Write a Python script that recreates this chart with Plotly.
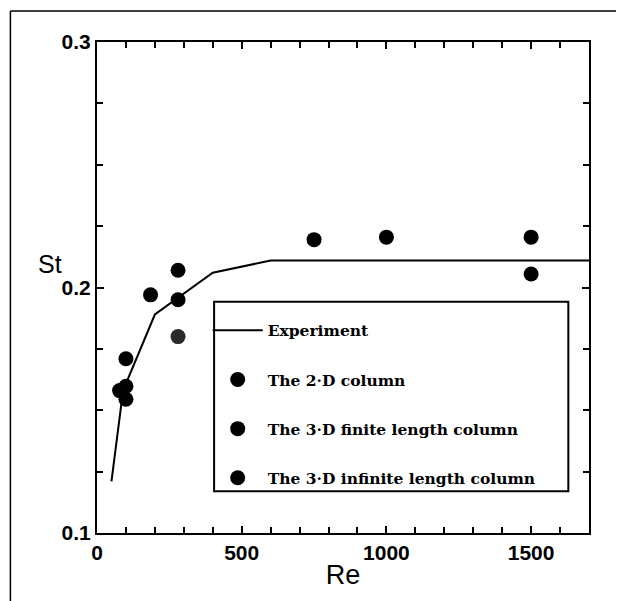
import plotly.graph_objects as go

# Experiment curve
exp_re = [50, 90, 200, 400, 600, 1700]
exp_st = [0.121, 0.158, 0.189, 0.206, 0.211, 0.211]

# The 2-D column
re_2d = [100, 185, 280, 750, 1000, 1500]
st_2d = [0.171, 0.197, 0.207, 0.2195, 0.2205, 0.2205]

# The 3-D finite length column
re_3df = [100, 280, 1500]
st_3df = [0.1545, 0.180, 0.2055]

# The 3-D infinite length column
re_3di = [78, 100, 280]
st_3di = [0.158, 0.1598, 0.195]

x_ticks = [0, 500, 1000, 1500]
y_ticks = [0.1, 0.2, 0.3]

SANS = "Liberation Sans, Arial"

fig = go.Figure()
fig.add_trace(go.Scatter(x=exp_re, y=exp_st, mode="lines", name="Experiment",
                         line=dict(color="black", width=2), legendgroup="a"))
fig.add_trace(go.Scatter(x=re_2d, y=st_2d, mode="markers", name="The 2·D column",
                         marker=dict(color="black", size=15), legendgroup="b"))
fig.add_trace(go.Scatter(x=re_3df, y=st_3df, mode="markers", name="The 3·D finite length column",
                         marker=dict(color=["black", "#2a2a2a", "black"], size=15), legendgroup="c"))
fig.add_trace(go.Scatter(x=re_3di, y=st_3di, mode="markers", name="The 3·D infinite length column",
                         marker=dict(color="black", size=15), legendgroup="d"))

axis_common = dict(showline=True, linecolor="black", linewidth=2, mirror="allticks",
                   ticks="inside", tickcolor="black", tickwidth=2, ticklen=7,
                   showgrid=False, zeroline=False,
                   tickfont=dict(family=SANS, size=21, color="black", weight="bold"))

fig.update_xaxes(range=[0, 1700], tickvals=x_ticks,
                 minor=dict(dtick=100, ticks="inside", ticklen=6, tickwidth=2, tickcolor="black"),
                 title=dict(text="Re", font=dict(family=SANS, size=27, color="black"), standoff=2),
                 **axis_common)
fig.update_yaxes(range=[0.1, 0.3], tickvals=y_ticks, tickformat=".1f",
                 minor=dict(dtick=0.025, ticks="inside", ticklen=6, tickwidth=2, tickcolor="black"),
                 **axis_common)

# page body has an 8px margin, so the figure is sized/offset to compensate
fig.update_layout(
    width=616, height=593,
    margin=dict(l=89, r=35, t=34, b=68),
    paper_bgcolor="white", plot_bgcolor="white",
    legend=dict(x=0.225, y=0.4465, xanchor="left", yanchor="top",
                bgcolor="rgba(0,0,0,0)", borderwidth=0,
                tracegroupgap=26, itemwidth=50,
                font=dict(family="DejaVu Serif", size=15.5, color="black", weight="bold")),
    shapes=[
        dict(type="rect", xref="paper", yref="paper", x0=0.238, x1=0.958, y0=0.085, y1=0.471,
             line=dict(color="black", width=2)),
        dict(type="line", xref="paper", yref="paper", x0=-0.176, x1=1.071, y0=1.063, y1=1.063,
             line=dict(color="black", width=1.5)),
        dict(type="line", xref="paper", yref="paper", x0=-0.176, x1=-0.176, y0=-0.14, y1=1.063,
             line=dict(color="black", width=1.5)),
    ],
    annotations=[
        dict(text="St", xref="paper", yref="paper", x=-0.125, y=0.548, showarrow=False,
             font=dict(family=SANS, size=25, color="black")),
    ],
)

fig.write_html("out.html")
